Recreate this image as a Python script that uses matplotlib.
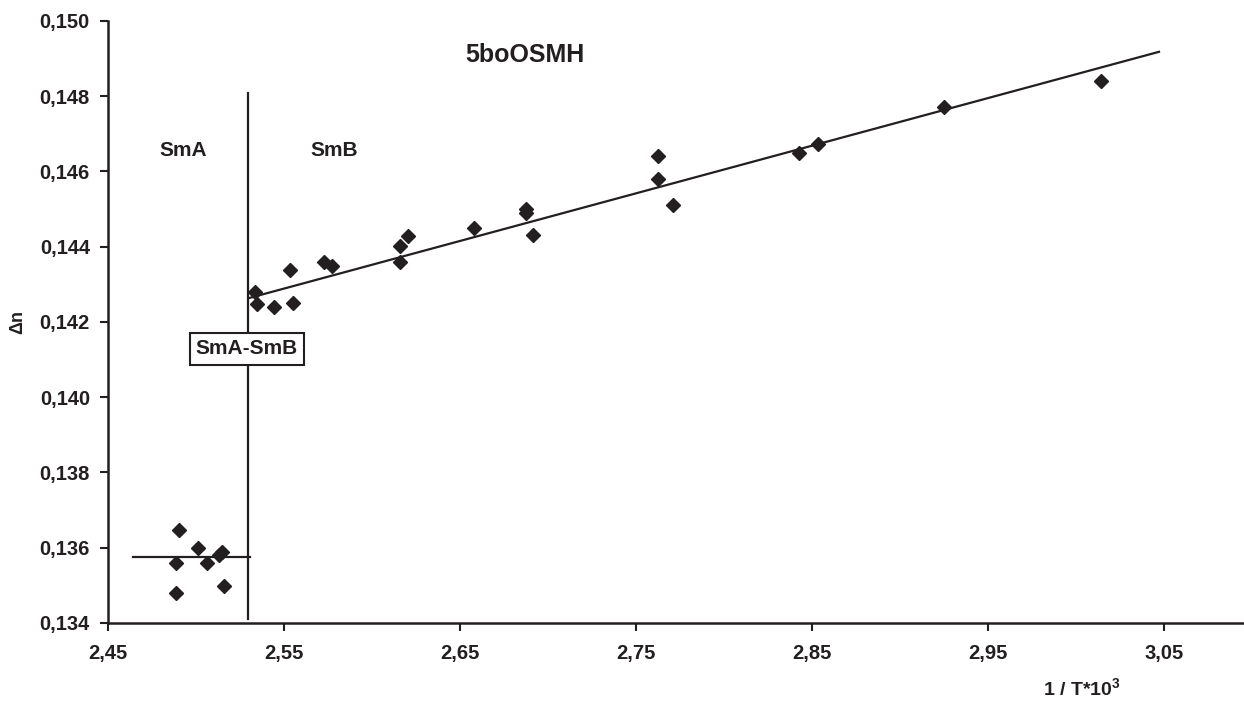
import matplotlib
matplotlib.use("Agg")
import matplotlib.pyplot as plt
from matplotlib.ticker import FuncFormatter, FixedLocator

plt.rcParams['font.family'] = ['Liberation Sans', 'DejaVu Sans']
plt.rcParams['mathtext.fontset'] = 'custom'
plt.rcParams['mathtext.rm'] = 'Liberation Sans:bold'
plt.rcParams['mathtext.default'] = 'rm'

# SmA phase points
sma_x = [2.4905, 2.5010, 2.4885, 2.5063, 2.5131, 2.5146, 2.5157, 2.4885]
sma_y = [0.13648, 0.13598, 0.13559, 0.13559, 0.13580, 0.13589, 0.13498, 0.13480]

# SmB phase points
smb_x = [2.5335, 2.5347, 2.5441, 2.5551, 2.5536, 2.5729, 2.5773, 2.6159, 2.6159,
         2.6205, 2.6580, 2.6875, 2.6875, 2.6914, 2.7623, 2.7623, 2.7709, 2.8426,
         2.8537, 2.9250, 3.0140]
smb_y = [0.14280, 0.14249, 0.14239, 0.14251, 0.14339, 0.14360, 0.14350, 0.14360, 0.14402,
         0.14428, 0.14449, 0.14500, 0.14489, 0.14431, 0.14640, 0.14579, 0.14511, 0.14650,
         0.14672, 0.14771, 0.14840]

# fitted lines
smb_fit_x = [2.5297, 3.0472]
smb_fit_y = [0.14263, 0.14918]
sma_fit_x = [2.4642, 2.5305]
sma_fit_y = [0.13575, 0.13575]
trans_x = [2.5298, 2.5298]
trans_y = [0.13411, 0.14809]

x_ticks = [2.45, 2.55, 2.65, 2.75, 2.85, 2.95, 3.05]
y_ticks = [0.134, 0.136, 0.138, 0.140, 0.142, 0.144, 0.146, 0.148, 0.150]

ink = '#231f20'

fig = plt.figure(figsize=(12.44, 7.01), dpi=100)
ax = fig.add_axes([0.0868, 0.1113, 0.9132, 0.8588])

ax.plot(smb_fit_x, smb_fit_y, color=ink, lw=1.6)
ax.plot(sma_fit_x, sma_fit_y, color=ink, lw=1.6)
ax.plot(trans_x, trans_y, color=ink, lw=1.6)
ax.plot(sma_x, sma_y, 'D', color=ink, ms=7, ls='none')
ax.plot(smb_x, smb_y, 'D', color=ink, ms=7, ls='none')

ax.set_xlim(2.45, 3.0955)
ax.set_ylim(0.134, 0.150)
ax.xaxis.set_major_locator(FixedLocator(x_ticks))
ax.yaxis.set_major_locator(FixedLocator(y_ticks))
ax.xaxis.set_major_formatter(FuncFormatter(lambda v, p: ('%.2f' % v).replace('.', ',')))
ax.yaxis.set_major_formatter(FuncFormatter(lambda v, p: ('%.3f' % v).replace('.', ',')))

for s in ['top', 'right']:
    ax.spines[s].set_visible(False)
for s in ['left', 'bottom']:
    ax.spines[s].set_color(ink)
    ax.spines[s].set_linewidth(1.8)
ax.tick_params(axis='both', direction='out', length=6, width=1.5, color=ink,
               labelsize=14.5, labelcolor=ink)
ax.tick_params(axis='y', pad=7)
ax.tick_params(axis='x', pad=9)
for lab in ax.get_xticklabels() + ax.get_yticklabels():
    lab.set_fontweight('bold')

fig.text(524.5 / 1244, 1 - 55 / 701, '5boOSMH', ha='center', va='center',
         fontsize=18, fontweight='bold', color=ink)
fig.text(183 / 1244, 1 - 151 / 701, 'SmA', ha='center', va='center',
         fontsize=15, fontweight='bold', color=ink)
fig.text(334 / 1244, 1 - 151 / 701, 'SmB', ha='center', va='center',
         fontsize=15, fontweight='bold', color=ink)
fig.text(247 / 1244, 1 - 349 / 701, 'SmA-SmB', ha='center', va='center',
         fontsize=15, fontweight='bold', color=ink,
         bbox=dict(boxstyle='square,pad=0.3', fc='white', ec=ink, lw=1.5))
fig.text(18 / 1244, 1 - 322 / 701, '\u0394n', ha='center', va='center',
         rotation=90, fontsize=13, fontweight='bold', color=ink)
fig.text(1082 / 1244, 1 - 688 / 701, r'1 / T*10$^3$', ha='center', va='center',
         fontsize=14, fontweight='bold', color=ink)

fig.savefig('out.png', dpi=100)
